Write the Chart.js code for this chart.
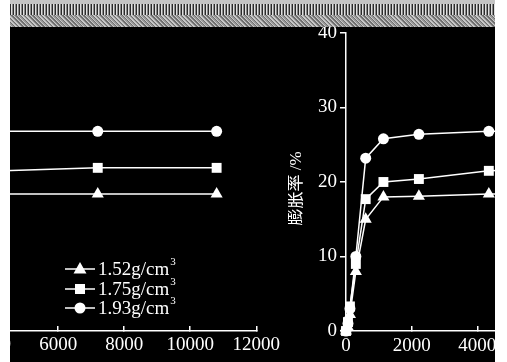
<!DOCTYPE html>
<html>
<head>
<meta charset="utf-8">
<script src="https://cdn.jsdelivr.net/npm/chart.js@4/dist/chart.umd.min.js"></script>
<style>
  body { margin: 0; background: #fff; width: 507px; height: 362px; overflow: hidden; position: relative; }
  #bg { position: absolute; left: 10px; top: 0; width: 485px; height: 362px; background: #000; }
  #noise {
    position: absolute; left: 10px; top: 0; width: 485px; height: 27px; z-index: 5;
    background:
      linear-gradient(#c4c4c4, #c4c4c4) 0 0 / 100% 4px no-repeat,
      repeating-linear-gradient(90deg, #2a2a2a 0 1px, #e0e0e0 1px 2px, #8a8a8a 2px 3px) 0 4px / 100% 11px no-repeat,
      repeating-linear-gradient(45deg, #6e6e6e 0 1px, #c8c8c8 1px 2px, #9a9a9a 2px 3px) 0 15px / 100% 12px no-repeat;
  }
  #leftBox { position: absolute; left: 10px; top: 0; width: 278px; height: 362px; overflow: hidden; }
  #leftBox canvas { position: absolute; left: -170px; top: 0; }
  #rightBox { position: absolute; left: 288px; top: 0; width: 207px; height: 362px; overflow: hidden; }
  #rightBox canvas { position: absolute; left: -18px; top: 0; }
</style>
</head>
<body>
<div id="bg"></div>
<div id="leftBox"><canvas id="left" width="448" height="362"></canvas></div>
<div id="rightBox"><canvas id="right" width="301" height="362"></canvas></div>
<div id="noise"></div>
<script>
// time (x) and swelling ratio (%) for the three dry densities
var times = [0, 60, 120, 300, 600, 1140, 2220, 4350, 7200, 10800];
var swell152 = [0, 0.5, 2.2, 8.0, 15.0, 18.0, 18.1, 18.4, 18.4, 18.4];
var swell175 = [0, 1.2, 3.3, 9.0, 17.7, 20.0, 20.4, 21.5, 21.9, 21.9];
var swell193 = [0, 1.0, 3.0, 10.0, 23.2, 25.8, 26.4, 26.8, 26.8, 26.8];
var seriesNames = ["1.52g/cm", "1.75g/cm", "1.93g/cm"];
var yTitle = "膨胀率 /%\u00a0\u00a0\u00a0";

var serif = "'Liberation Serif', 'Times New Roman', serif";

function pts(vals) {
  return times.map(function (t, i) { return { x: t, y: vals[i] }; });
}

function makeDatasets() {
  var styles = [
    { style: "triangle", r: 7 },
    { style: "rect", r: 7 },
    { style: "circle", r: 5.5 }
  ];
  var vals = [swell152, swell175, swell193];
  return vals.map(function (v, i) {
    return {
      label: seriesNames[i] + "3",
      data: pts(v),
      borderColor: "#fff",
      backgroundColor: "#fff",
      pointBackgroundColor: "#fff",
      pointBorderColor: "#fff",
      borderWidth: 1.5,
      pointStyle: styles[i].style,
      pointRadius: styles[i].r,
      pointBorderWidth: 0,
      tension: 0,
      clip: false
    };
  });
}

function plainTick(v) { return String(v); }

// legend drawn inside the left panel: line + marker + text with superscript 3
var legendPlugin = {
  id: "sideLegend",
  afterDraw: function (chart) {
    var ctx = chart.ctx;
    var x0 = chart.chartArea.left + 205;
    var rows = [269, 289, 308];
    var marks = ["triangle", "rect", "circle"];
    ctx.save();
    ctx.fillStyle = "#fff";
    ctx.strokeStyle = "#fff";
    ctx.lineWidth = 1.5;
    rows.forEach(function (y, i) {
      ctx.beginPath();
      ctx.moveTo(x0, y);
      ctx.lineTo(x0 + 30, y);
      ctx.stroke();
      var cx = x0 + 15;
      ctx.beginPath();
      if (marks[i] === "triangle") {
        ctx.moveTo(cx, y - 7);
        ctx.lineTo(cx + 6.5, y + 4.5);
        ctx.lineTo(cx - 6.5, y + 4.5);
        ctx.closePath();
      } else if (marks[i] === "rect") {
        ctx.rect(cx - 5, y - 5, 10, 10);
      } else {
        ctx.arc(cx, y, 5.5, 0, Math.PI * 2);
      }
      ctx.fill();
      ctx.font = "19px " + serif;
      ctx.textBaseline = "middle";
      ctx.textAlign = "left";
      ctx.fillText(seriesNames[i], x0 + 33, y + 1);
      var w = ctx.measureText(seriesNames[i]).width;
      ctx.font = "11px " + serif;
      ctx.fillText("3", x0 + 34 + w, y - 7);
    });
    ctx.restore();
  }
};

Chart.defaults.color = "#fff";
Chart.defaults.font.family = serif;

new Chart(document.getElementById("left"), {
  type: "line",
  data: { datasets: makeDatasets() },
  options: {
    responsive: false,
    animation: false,
    layout: { padding: { left: 20, right: 30, top: 33, bottom: 0 } },
    plugins: { legend: { display: false }, tooltip: { enabled: false } },
    scales: {
      x: {
        type: "linear", min: 0, max: 12000,
        afterFit: function (s) { s.height = 31; },
        ticks: { stepSize: 2000, color: "#fff", font: { size: 19, family: serif }, padding: 8, callback: plainTick, maxRotation: 0 },
        grid: { drawOnChartArea: false, color: "#fff", tickLength: -5, lineWidth: 1.5 },
        border: { color: "#fff", width: 1.5 }
      },
      y: { display: false, min: 0, max: 40 }
    }
  },
  plugins: [legendPlugin]
});

new Chart(document.getElementById("right"), {
  type: "line",
  data: { datasets: makeDatasets() },
  options: {
    responsive: false,
    animation: false,
    layout: { padding: { left: 0, right: 25, top: 33, bottom: 0 } },
    plugins: { legend: { display: false }, tooltip: { enabled: false } },
    scales: {
      x: {
        type: "linear", min: 0, max: 6000,
        afterFit: function (s) { s.height = 31; },
        ticks: { stepSize: 2000, color: "#fff", font: { size: 19, family: serif }, padding: 9, callback: plainTick, maxRotation: 0 },
        grid: { drawOnChartArea: false, color: "#fff", tickLength: -5, lineWidth: 1.5 },
        border: { color: "#fff", width: 1.5 }
      },
      y: {
        min: 0, max: 40,
        afterFit: function (s) { s.width = 76; },
        ticks: { stepSize: 10, color: "#fff", font: { size: 19, family: serif }, padding: 3, callback: plainTick },
        grid: { drawOnChartArea: false, color: "#fff", tickLength: 6, lineWidth: 1.5 },
        border: { color: "#fff", width: 1.5 },
        title: {
          display: true, text: yTitle, color: "#fff",
          font: { size: 17, family: "'Liberation Serif', 'Noto Sans CJK SC', serif" },
          padding: { top: 16, bottom: 0 }
        }
      }
    }
  }
});
</script>
</body>
</html>
